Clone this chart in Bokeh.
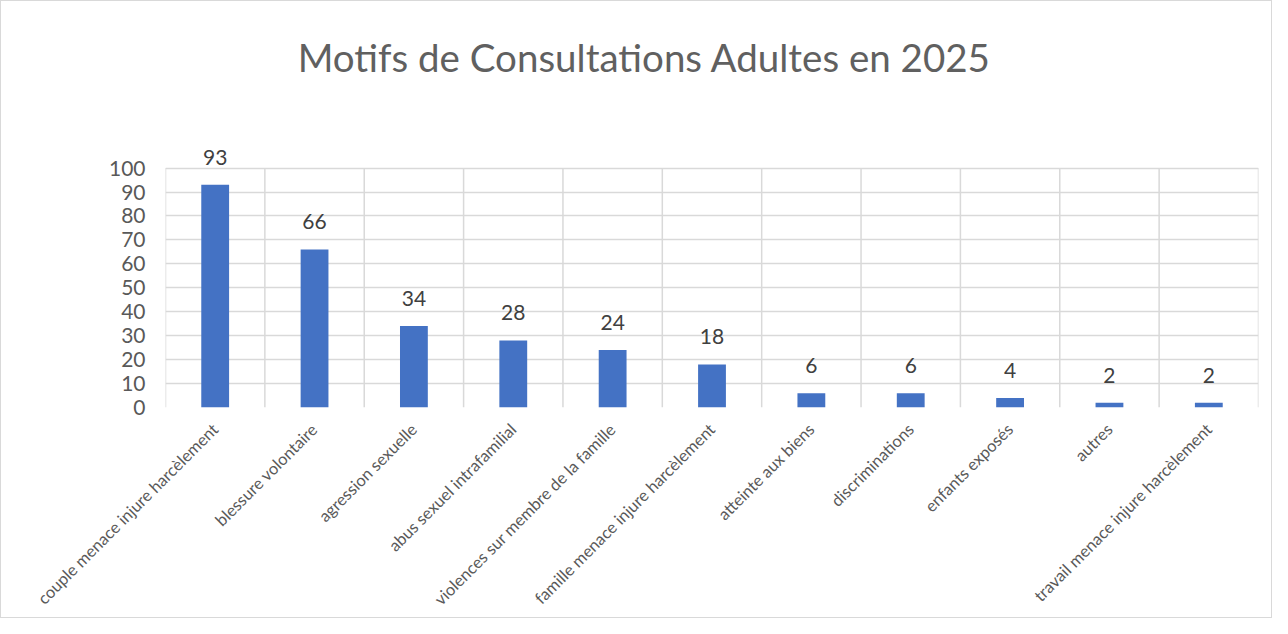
from math import pi
from bokeh.plotting import figure
from bokeh.models import ColumnDataSource, FixedTicker, Label, LabelSet, Range1d, FactorRange
from bokeh.core.properties import value
from bokeh.embed import file_html
from bokeh.resources import INLINE

title_text = "Motifs de Consultations Adultes en 2025"
categories = [
    "couple menace injure harcèlement",
    "blessure volontaire",
    "agression sexuelle",
    "abus sexuel intrafamilial",
    "violences sur membre de la famille",
    "famille menace injure harcèlement",
    "atteinte aux biens",
    "discriminations",
    "enfants exposés",
    "autres",
    "travail menace injure harcèlement",
]
values = [93, 66, 34, 28, 24, 18, 6, 6, 4, 2, 2]
value_labels = [str(v) for v in values]
y_ticks = [0, 10, 20, 30, 40, 50, 60, 70, 80, 90, 100]

FONT = "Lato"
GRID = "#d9d9d9"

src = ColumnDataSource(dict(cat=categories, val=values, lab=value_labels))
n = len(categories)
bounds = list(range(n + 1))
grid_src = ColumnDataSource(dict(x=bounds, y0=[y_ticks[0]] * len(bounds), y1=[y_ticks[-1]] * len(bounds)))

p = figure(
    width=1272, height=618,
    x_range=FactorRange(factors=categories, range_padding=0),
    y_range=Range1d(0, 165.4),
    output_backend="svg", toolbar_location=None,
    min_border_left=164, min_border_right=15, min_border_top=10, min_border_bottom=211,
    background_fill_color="white", border_fill_color="white",
)
p.styles = {"border": "1px solid #d9d9d9"}
p.outline_line_color = None

# vertical category separators (Excel-style), limited to the value axis extent
p.segment(x0="x", y0="y0", x1="x", y1="y1", source=grid_src, line_color=GRID, line_width=1.5)

p.vbar(x="cat", top="val", width=0.28, source=src, fill_color="#4472C4", line_color=None)

p.add_layout(LabelSet(x="cat", y="val", text="lab", source=src, y_offset=20,
                      text_align="center", text_baseline="bottom",
                      text_font=value(FONT), text_font_size="21px", text_color="#404040"))

# axes
p.yaxis.ticker = FixedTicker(ticks=y_ticks)
p.yaxis.axis_line_color = None
p.yaxis.major_tick_line_color = None
p.yaxis.minor_tick_line_color = None
p.yaxis.major_label_text_font = FONT
p.yaxis.major_label_text_font_size = "21px"
p.yaxis.major_label_text_color = "#595959"
p.yaxis.major_label_standoff = 14

p.xaxis.axis_line_color = None
p.xaxis.major_tick_line_color = None
p.xaxis.major_label_orientation = pi / 4
p.xaxis.major_label_text_font = FONT
p.xaxis.major_label_text_font_size = "16.5px"
p.xaxis.major_label_text_color = "#595959"
p.xaxis.major_label_standoff = 13

p.ygrid.ticker = FixedTicker(ticks=y_ticks)
p.ygrid.grid_line_color = GRID
p.ygrid.grid_line_width = 1.5
p.xgrid.grid_line_color = None

p.add_layout(Label(x=4.82, y=146.6, text=title_text, text_align="center", text_baseline="middle",
                   text_font=FONT, text_font_size="38.5px", text_color="#606060"))

open("out.html", "w").write(file_html(p, INLINE))
